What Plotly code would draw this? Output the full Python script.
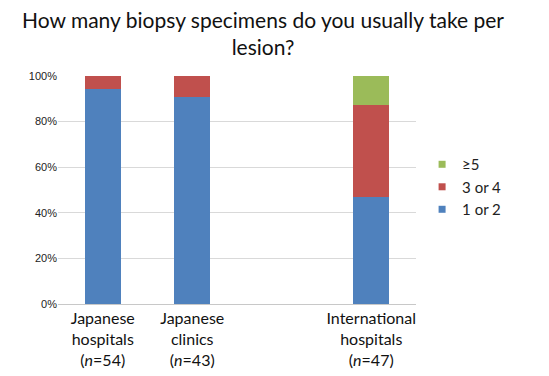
import plotly.graph_objects as go

categories = ["Japanese<br>hospitals<br>(<i>n</i>=54)",
              "Japanese<br>clinics<br>(<i>n</i>=43)",
              " ",
              "International<br>hospitals<br>(<i>n</i>=47)"]
one_or_two = [94.4, 90.7, None, 46.8]
three_or_four = [5.6, 9.3, None, 40.4]
five_plus = [0, 0, None, 12.8]
series_names = ["1 or 2", "3 or 4", "≥5"]
colors = ["#4F81BD", "#C0504D", "#9BBB59"]
y_ticks = [0, 20, 40, 60, 80, 100]
y_tick_labels = ["0%", "20%", "40%", "60%", "80%", "100%"]
title_text = "How many biopsy specimens do you usually take per<br>lesion?"

fig = go.Figure()
for name, vals, col in zip(series_names, [one_or_two, three_or_four, five_plus], colors):
    fig.add_trace(go.Bar(x=categories, y=vals, name=name, marker_color=col,
                         marker_line_width=0, width=0.4, showlegend=False))
# legend entries with small square markers
for name, col in zip(series_names, colors):
    fig.add_trace(go.Scatter(x=[None], y=[None], mode="markers", name=name,
                             marker=dict(symbol="square", size=7, color=col)))

fig.update_layout(
    width=541, height=368,
    margin=dict(l=50, r=133, t=68, b=72),
    barmode="stack",
    paper_bgcolor="white", plot_bgcolor="white",
    legend=dict(x=1.017, y=0.513, xanchor="left", yanchor="middle",
                font=dict(family="Lato", size=15, color="#222222"),
                traceorder="reversed", itemwidth=30),
    showlegend=True,
    annotations=[dict(text=title_text, xref="paper", yref="paper",
                      x=(255 - 50) / 358, y=1.19, xanchor="center", yanchor="middle",
                      showarrow=False, align="center",
                      font=dict(family="Lato", size=21, color="#111111"))],
)
fig.update_xaxes(categoryorder="array", categoryarray=categories, automargin=False,
                 showline=True, linecolor="#c8c8c8", linewidth=1,
                 ticks="", tickfont=dict(family="Lato", size=16, color="#111111"))
fig.update_yaxes(range=[0, 100], tickvals=y_ticks, ticktext=y_tick_labels,
                 automargin=False,
                 showgrid=True, gridcolor="#d9d9d9", gridwidth=1,
                 zeroline=False, showline=False,
                 tickfont=dict(family="Liberation Sans", size=11, color="#222222"))

fig.write_html("out.html")
